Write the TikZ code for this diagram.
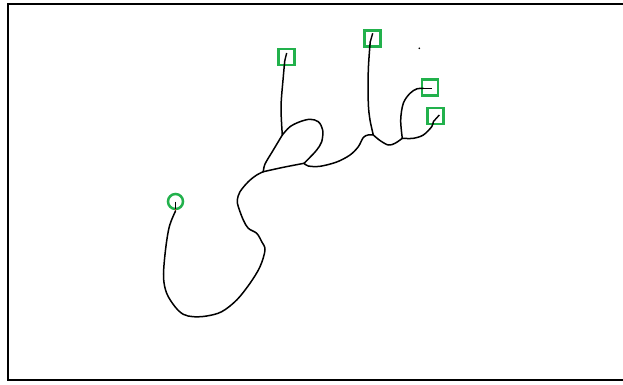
\documentclass[tikz,border=0pt]{standalone}
\definecolor{mkgreen}{RGB}{34,177,76}
\definecolor{mkred}{RGB}{237,28,36}
\tikzset{
  skel/.style={line width=1.5pt, black, line join=round, line cap=round},
  marker/.style={draw=mkgreen, line width=2.8pt, minimum size=16pt, inner sep=0pt, rectangle},
  rootmark/.style={draw=mkgreen, line width=2.5pt, minimum size=15pt, inner sep=0pt, circle},
  tick/.style={line width=1.4pt, black},
}
\begin{document}
\begin{tikzpicture}[x=1pt,y=-1pt]
\useasboundingbox (0,0) rectangle (623,384);
\fill[white] (0,0) rectangle (623,384);
% frame (no right edge visible)
\draw[line width=2.2pt] (623,4.3) -- (7.7,4.3) -- (7.7,380.3) -- (623,380.3);

% markers
\node[rootmark] (r) at (175.5,201.5) {};
\node[marker] (s1) at (286.2,57) {};
\node[marker] (s2) at (372.7,38.3) {};
\node[marker] (s3) at (430,87.3) {};
\node[marker] (s4) at (435.5,116) {};

% junctions
\coordinate (J1) at (263.3,171.7);
\coordinate (J2) at (282.3,135);
\coordinate (J3) at (304,163.3);
\coordinate (J4) at (373.3,135);
\coordinate (J5) at (402.3,138.3);

% tick ends inside markers
\coordinate (r0) at (175.5,201.5);
\coordinate (r1) at (175.5,211);
\coordinate (t1a) at (286.7,53);
\coordinate (t1b) at (284.8,60.5);
\coordinate (t2a) at (372.7,33.3);
\coordinate (t2b) at (370.2,42);
\coordinate (t3a) at (431.7,88.3);
\coordinate (t3b) at (423.3,88.3);
\coordinate (t4a) at (439.3,115);
\coordinate (t4b) at (433.3,121.7);

% ticks
\draw[tick] (r0) -- (r1);
\draw[line width=1.4pt, mkred] (175.5,208.5) -- (r1);
\draw[tick] (t1a) -- (t1b);
\draw[tick] (t2a) -- (t2b);
\draw[tick] (t3a) -- (t3b);
\draw[tick] (t4a) -- (t4b);

% tail from root to J1
\draw[skel] plot[smooth, tension=0.55] coordinates {
  (r1) (169.3,226.7) (165.5,250) (163.5,276.7) (166.7,293.3) (175,306.7)
  (183.3,314.3) (193.3,316.7) (206.7,316) (221.7,311.7) (236.7,300)
  (250,283.3) (260,266.7) (265,250) (261.7,241.7) (256.7,233.3)
  (248.3,228.3) (243.3,220) (238.3,206.7) (237.3,200) (240,191.7)
  (248.3,181.7) (256.7,175) (J1)};

% J1 -> J2
\draw[skel] plot[smooth, tension=0.5] coordinates {(J1) (265,164) (273.3,150) (J2)};
% J2 -> s1
\draw[skel] plot[smooth, tension=0.5] coordinates {(J2) (281,106.7) (283.3,76.7) (t1b)};
% loop J2 -> J3
\draw[skel] plot[smooth, tension=0.55] coordinates {(J2) (290,126.7) (300,121.7)
  (310,119.3) (318.3,121.7) (322.7,130) (321.7,141.7) (316.7,150) (310,157.3) (J3)};
% J1 -> J3
\draw[skel] plot[smooth, tension=0.5] coordinates {(J1) (283.3,167.3) (J3)};
% J3 -> J4
\draw[skel] plot[smooth, tension=0.55] coordinates {(J3) (308.3,166) (320,166.3)
  (336.7,162) (350,155) (358.3,146.7) (363.3,137.5) (368,135) (J4)};
% J4 -> s2
\draw[skel] plot[smooth, tension=0.5] coordinates {(J4) (370,120) (368.3,103.3) (368.3,70) (t2b)};
% J4 -> J5
\draw[skel] plot[smooth, tension=0.55] coordinates {(J4) (380,140.5) (388.3,145) (395,143.3) (J5)};
% J5 -> s3
\draw[skel] plot[smooth, tension=0.55] coordinates {(J5) (400.7,120) (403.3,103.3) (410,93.3) (417,88.8) (t3b)};
% J5 -> s4
\draw[skel] plot[smooth, tension=0.55] coordinates {(J5) (413.3,138.3) (423.3,135) (431.7,126.7) (t4b)};

% stray dot
\fill (419.3,48.3) circle (0.9);
\end{tikzpicture}
\end{document}
